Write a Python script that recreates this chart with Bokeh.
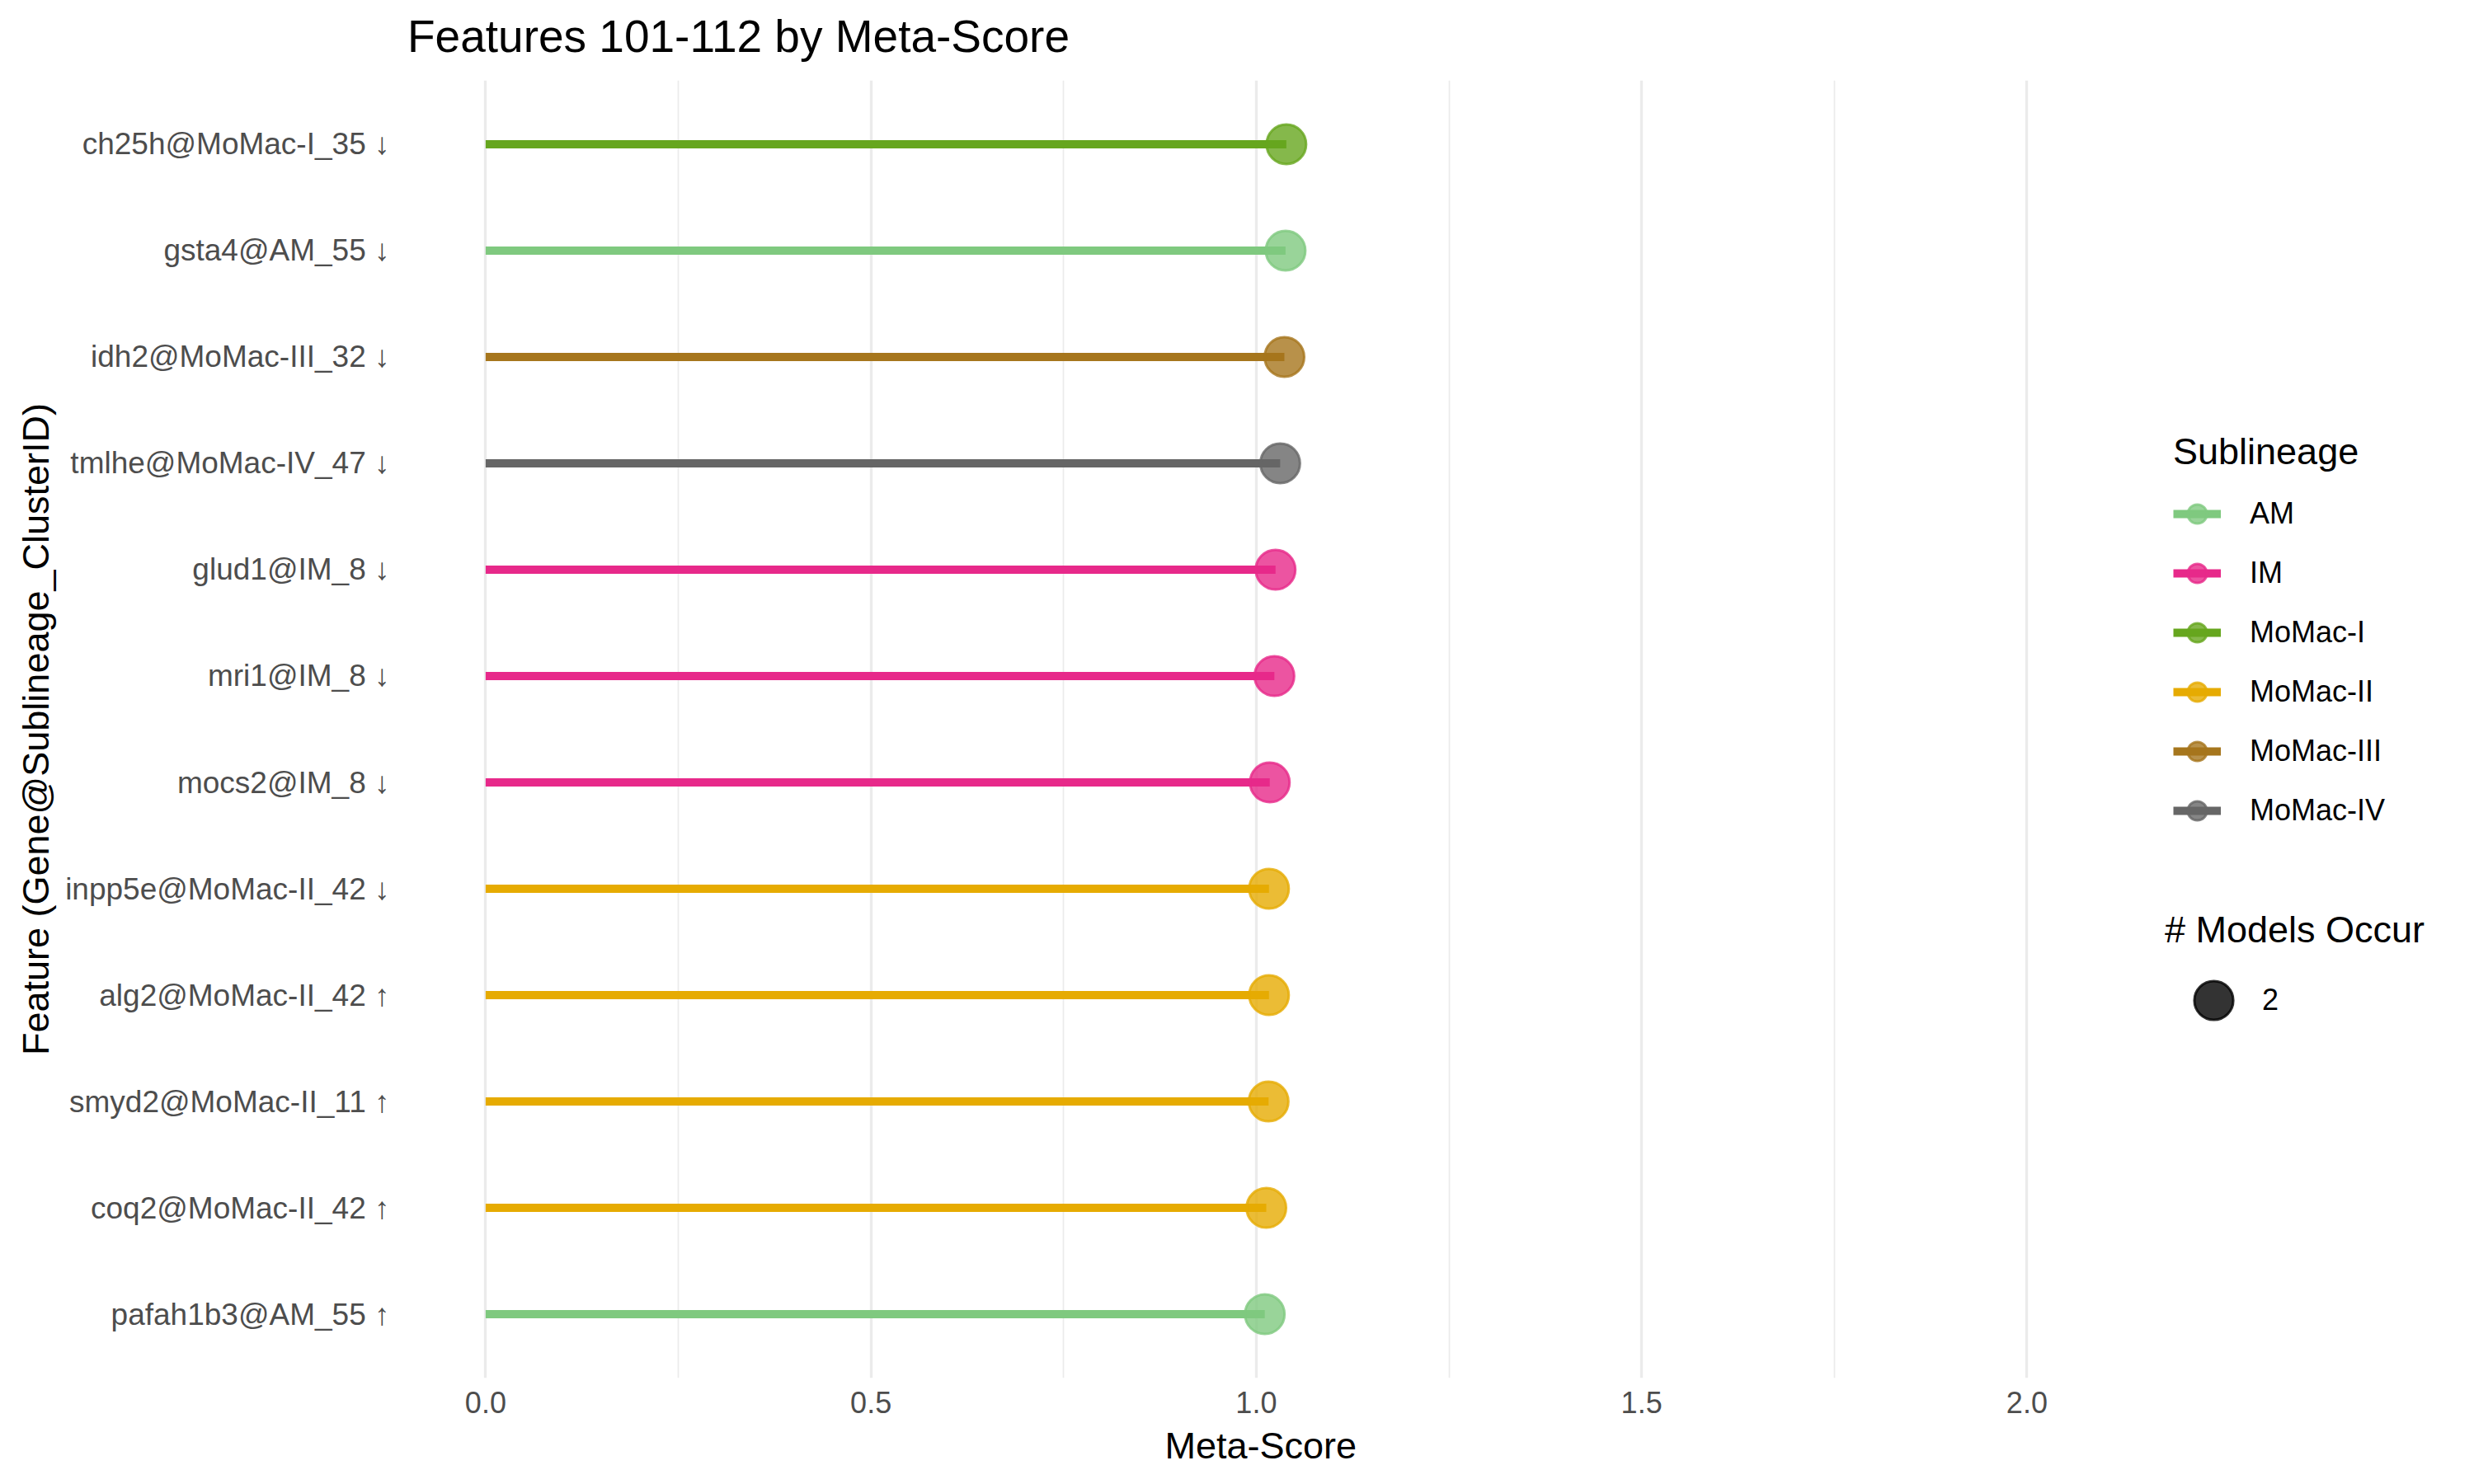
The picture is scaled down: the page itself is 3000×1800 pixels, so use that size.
from bokeh.plotting import figure
from bokeh.models import (ColumnDataSource, FactorRange, Range1d, FixedTicker,
                          PrintfTickFormatter, Legend, LegendItem, Title, Div)
from bokeh.layouts import column
from bokeh.embed import file_html
from bokeh.resources import INLINE

# ---------------- data ----------------
features = [
    "ch25h@MoMac-I_35 \u2193",
    "gsta4@AM_55 \u2193",
    "idh2@MoMac-III_32 \u2193",
    "tmlhe@MoMac-IV_47 \u2193",
    "glud1@IM_8 \u2193",
    "mri1@IM_8 \u2193",
    "mocs2@IM_8 \u2193",
    "inpp5e@MoMac-II_42 \u2193",
    "alg2@MoMac-II_42 \u2191",
    "smyd2@MoMac-II_11 \u2191",
    "coq2@MoMac-II_42 \u2191",
    "pafah1b3@AM_55 \u2191",
]
sublineage = ["MoMac-I", "AM", "MoMac-III", "MoMac-IV", "IM", "IM", "IM",
              "MoMac-II", "MoMac-II", "MoMac-II", "MoMac-II", "AM"]
meta_score = [1.039, 1.038, 1.0365, 1.031, 1.025, 1.0235, 1.0175,
              1.0165, 1.0165, 1.016, 1.013, 1.011]
n_models = [2] * 12

legend_order = ["AM", "IM", "MoMac-I", "MoMac-II", "MoMac-III", "MoMac-IV"]
palette = {"AM": "#7FC97F", "IM": "#E7298A", "MoMac-I": "#66A61E",
           "MoMac-II": "#E6AB02", "MoMac-III": "#A6761D", "MoMac-IV": "#666666"}
x_ticks = [0.0, 0.5, 1.0, 1.5, 2.0]
x_minor = [0.25, 0.75, 1.25, 1.75]
title_text = "Features 101-112 by Meta-Score"

FONT = "Liberation Sans"

# ---------------- layout constants ----------------
W, H = 3000, 1800
TITLE_H = 80
FRAME_L, FRAME_R = 494, 2980
FRAME_TOP = 97
X0 = -0.101
PX_PER_UNIT = 934.5
X1 = X0 + (FRAME_R - FRAME_L) / PX_PER_UNIT

title_div = Div(text=title_text, width=W, height=TITLE_H, margin=0,
                styles={"font-family": FONT, "font-size": "55px",
                        "color": "black", "line-height": "88px",
                        "text-indent": f"{FRAME_L}px", "white-space": "nowrap",
                        "overflow": "hidden"})

p = figure(width=W, height=H - TITLE_H, output_backend="svg", toolbar_location=None,
           y_range=FactorRange(factors=list(reversed(features)),
                               range_padding=0.1, range_padding_units="absolute"),
           x_range=Range1d(X0, X1),
           min_border_left=FRAME_L, min_border_right=W - FRAME_R,
           min_border_top=FRAME_TOP - TITLE_H, min_border_bottom=129)
p.outline_line_color = None
p.background_fill_color = "white"
p.border_fill_color = "white"

# grid
p.ygrid.grid_line_color = None
p.xgrid.grid_line_color = "#EBEBEB"
p.xgrid.grid_line_width = 3.3
p.xgrid.minor_grid_line_color = "#EBEBEB"
p.xgrid.minor_grid_line_width = 1.7
p.xaxis.ticker = FixedTicker(ticks=x_ticks, minor_ticks=x_minor)
p.xaxis.formatter = PrintfTickFormatter(format="%.1f")

for ax in (p.xaxis, p.yaxis):
    ax.axis_line_color = None
    ax.major_tick_line_color = None
    ax.minor_tick_line_color = None
    ax.major_tick_out = 0
    ax.minor_tick_out = 0
    ax.major_label_text_font = FONT
    ax.major_label_text_font_size = "36px"
    ax.major_label_text_color = "#4D4D4D"
    ax.axis_label_text_font = FONT
    ax.axis_label_text_font_size = "45px"
    ax.axis_label_text_font_style = "normal"
    ax.axis_label_text_color = "black"

p.yaxis.major_label_text_font_size = "37px"
p.xaxis.major_label_standoff = 16
p.yaxis.axis_label = "Feature (Gene@Sublineage_ClusterID)"
p.yaxis.major_label_standoff = 22
p.yaxis.axis_label_standoff = 7

# x-axis title centred on the data panel (0 .. ~2.0 area), not on the extended frame
xt = Title(text="Meta-Score", align="left", offset=918, standoff=19,
           text_font=FONT, text_font_size="45px", text_font_style="normal",
           text_color="black")
p.add_layout(xt, "below")

# ---------------- glyphs ----------------
items = []
seg_renderers = {}
sources = {}
for s in legend_order:
    idx = [i for i, v in enumerate(sublineage) if v == s]
    src = ColumnDataSource(dict(
        feature=[features[i] for i in idx],
        score=[meta_score[i] for i in idx],
        n=[n_models[i] for i in idx],
    ))
    sources[s] = src
    seg_renderers[s] = p.segment(x0=0, y0="feature", x1="score", y1="feature",
                                 source=src, line_color=palette[s], line_width=10,
                                 line_cap="butt")
for s in legend_order:
    sc = p.scatter(x="score", y="feature", source=sources[s], size=48,
                   fill_color=palette[s], fill_alpha=0.8,
                   line_color=palette[s], line_alpha=0.8, line_width=3)
    items.append(LegendItem(label=s, renderers=[seg_renderers[s], sc]))

# size legend renderer: same data, hidden in the panel (legend key only)
all_src = ColumnDataSource(dict(feature=features, score=meta_score, n=n_models))
size_r = p.scatter(x="score", y="feature", source=all_src, size=48,
                   fill_color="black", fill_alpha=0.8, line_color="black",
                   line_alpha=0.8, line_width=3, visible=False)

leg1 = Legend(items=items, title="Sublineage", location=(2141, 652),
              glyph_width=58, glyph_height=72, label_height=72,
              label_standoff=35, spacing=0, padding=0, margin=0,
              title_standoff=13, border_line_color=None,
              background_fill_alpha=0)
leg1.title_text_font = FONT
leg1.title_text_font_size = "45px"
leg1.title_text_font_style = "normal"
leg1.title_text_color = "black"
leg1.label_text_font = FONT
leg1.label_text_font_size = "36px"
leg1.label_text_color = "black"
p.add_layout(leg1, "center")

leg2 = Legend(items=[LegendItem(label=str(n_models[0]), renderers=[size_r])],
              title="# Models Occur", location=(2131, 399),
              glyph_width=118, glyph_height=118, label_height=118,
              label_standoff=0, spacing=0, padding=0, margin=0,
              title_standoff=0, border_line_color=None,
              background_fill_alpha=0, inactive_fill_alpha=0)
leg2.title_text_font = FONT
leg2.title_text_font_size = "45px"
leg2.title_text_font_style = "normal"
leg2.title_text_color = "black"
leg2.label_text_font = FONT
leg2.label_text_font_size = "36px"
leg2.label_text_color = "black"
p.add_layout(leg2, "center")

layout = column(title_div, p, spacing=0)

with open("out.html", "w") as f:
    f.write(file_html(layout, INLINE))
